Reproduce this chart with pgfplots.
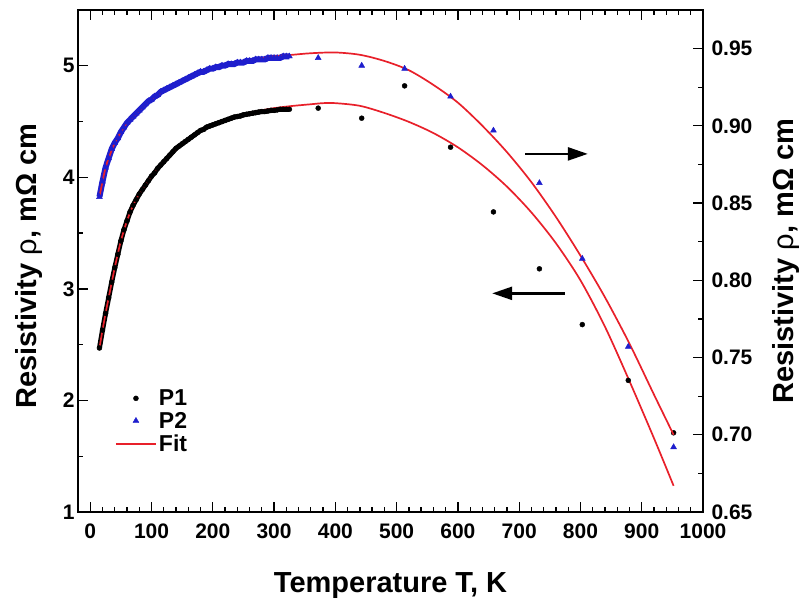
\documentclass[border=0pt]{standalone}
\usepackage{fontspec}
\setmainfont{Liberation Sans}
\usepackage{pgfplots}
\pgfplotsset{compat=1.18}
\usepackage{pgfplotstable}
\usetikzlibrary{arrows.meta}
\definecolor{fitred}{RGB}{232,32,42}
\definecolor{ptblue}{RGB}{30,30,205}

\pgfplotsset{
 markleg/.style={legend image code/.code={\draw[##1, mark repeat=2, mark phase=2] plot coordinates {(0pt,0pt) (20pt,0pt) (40pt,0pt)};}},
 lineleg/.style={legend image code/.code={\draw[fitred, line width=2pt] (0pt,0pt) -- (40pt,0pt);}},
}

\pgfplotstableread{
T v
15 2.47
20 2.63
25 2.78
30 2.92
35 3.06
40 3.19
45 3.31
50 3.43
55 3.53
60 3.61
65 3.69
70 3.75
75 3.80
80 3.85
85 3.89
90 3.93
95 3.97
100 4.01
105 4.04
110 4.08
115 4.11
120 4.14
125 4.17
130 4.20
135 4.23
140 4.26
145 4.28
150 4.30
155 4.32
160 4.34
165 4.36
170 4.38
175 4.40
180 4.42
185 4.43
190 4.45
195 4.46
200 4.47
205 4.48
210 4.49
215 4.50
220 4.51
225 4.52
230 4.53
235 4.54
240 4.545
245 4.55
250 4.56
255 4.565
260 4.57
265 4.575
270 4.58
275 4.585
280 4.59
285 4.59
290 4.595
295 4.60
300 4.60
305 4.605
310 4.61
315 4.61
320 4.61
325 4.61
372 4.62
443 4.53
513 4.82
588 4.27
658 3.69
733 3.18
803 2.68
878 2.18
952 1.71
}\pone

\pgfplotstableread{
T v
15 0.854
20 0.864
25 0.873
30 0.879
35 0.885
40 0.889
45 0.892
50 0.896
55 0.899
60 0.902
65 0.904
70 0.906
75 0.908
80 0.910
85 0.912
90 0.914
95 0.916
100 0.917
105 0.919
110 0.920
115 0.922
120 0.923
125 0.924
130 0.925
135 0.926
140 0.927
145 0.928
150 0.929
155 0.930
160 0.931
165 0.932
170 0.933
175 0.934
180 0.935
185 0.935
190 0.936
195 0.937
200 0.937
205 0.938
210 0.938
215 0.939
220 0.939
225 0.940
230 0.940
235 0.940
240 0.941
245 0.941
250 0.941
255 0.942
260 0.942
265 0.942
270 0.943
275 0.943
280 0.943
285 0.943
290 0.944
295 0.944
300 0.944
305 0.944
310 0.944
315 0.945
320 0.945
325 0.945
372 0.944
443 0.939
513 0.937
588 0.919
658 0.897
733 0.863
803 0.814
878 0.757
952 0.692
}\ptwo

\pgfplotstableread{
T v
15 2.47
20 2.63
25 2.78
30 2.92
40 3.19
50 3.43
60 3.61
70 3.75
80 3.85
95 3.97
110 4.08
125 4.17
150 4.30
180 4.42
210 4.49
240 4.55
270 4.59
300 4.62
330 4.64
360 4.655
380 4.665
400 4.665
440 4.641
480 4.577
520 4.497
560 4.397
600 4.269
640 4.109
680 3.917
720 3.685
760 3.409
800 3.077
840 2.661
880 2.173
920 1.661
952 1.235
}\fitone

\pgfplotstableread{
T v
15 0.854
20 0.864
25 0.873
30 0.879
40 0.889
50 0.896
60 0.902
70 0.906
80 0.910
95 0.916
110 0.920
125 0.924
150 0.929
180 0.935
210 0.938
240 0.941
270 0.943
300 0.945
330 0.946
360 0.947
400 0.9475
440 0.946
480 0.942
520 0.936
560 0.9265
600 0.915
640 0.900
680 0.883
720 0.8635
760 0.841
800 0.816
840 0.789
880 0.759
920 0.726
952 0.700
}\fittwo

\begin{document}
\begin{tikzpicture}
\pgfplotsset{
 common/.style={
  scale only axis, width=625pt, height=502pt,
  xmin=-20, xmax=1000,
  tick align=inside,
  major tick length=10pt, minor tick length=5pt,
  every tick/.style={black, line width=1.3pt},
  axis line style={line width=1.8pt},
  tick label style={font=\fontsize{21}{21}\selectfont\bfseries},
  /pgf/number format/assume math mode=true,
  /pgf/number format/1000 sep={},
  label style={font=\fontsize{29}{29}\selectfont\bfseries},
 }
}
\begin{axis}[common, name=main,
 ymin=1, ymax=5.5, ytick={1,2,3,4,5}, minor ytick={1.5,2.5,3.5,4.5},
 ytick pos=left,
 xtick={0,100,200,300,400,500,600,700,800,900,1000}, minor x tick num=4, xtick pos=both,
 xticklabel style={yshift=-8pt},
 xlabel={Temperature T, K},
 ylabel={Resistivity {\mdseries ρ}, mΩ cm},
 xlabel style={at={(axis description cs:0.5,-0.147)}, anchor=center},
 ylabel style={at={(axis description cs:-0.078,0.49)}, anchor=center},
 legend style={at={(axis description cs:0.054,0.252)}, anchor=north west,
   draw=none, fill=none, font=\fontsize{23}{23}\selectfont\bfseries, row sep=1pt},
 legend cell align=left,
]
\addplot[black, line width=5pt, no marks, restrict x to domain=0:330, forget plot]
  table[x=T,y=v]{\pone};
\addplot[only marks, mark=*, mark size=2.5pt, black, markleg]
  table[x=T,y=v]{\pone};
\addlegendentry{P1}
\addlegendimage{only marks, mark=triangle*, mark size=3.4pt, ptblue, markleg}
\addlegendentry{P2}
\addplot[fitred, line width=1.7pt, smooth, no marks, lineleg]
  table[x=T,y=v]{\fitone};
\addlegendentry{Fit}
\draw[line width=2.5pt, -{Triangle[length=20pt,width=13pt]}] (axis cs:710,4.21) -- (axis cs:812,4.21);
\draw[line width=2.5pt, {Triangle[length=20pt,width=13pt]}-] (axis cs:656,2.96) -- (axis cs:775,2.96);
\end{axis}
\begin{axis}[common,
 axis y line*=right, axis x line=none,
 ymin=0.65, ymax=0.975,
 ytick={0.65,0.7,0.75,0.8,0.85,0.9,0.95},
 minor ytick={0.675,0.725,0.775,0.825,0.875,0.925},
 yticklabel style={/pgf/number format/.cd, fixed, fixed zerofill, precision=2, /tikz/.cd, xshift=5pt},
 ylabel={Resistivity {\mdseries ρ}, mΩ cm},
 ylabel style={at={(axis description cs:1.133,0.5)}, anchor=center},
]
\addplot[ptblue, line width=6pt, no marks, restrict x to domain=0:330] table[x=T,y=v]{\ptwo};
\addplot[only marks, mark=triangle*, mark size=3.4pt, ptblue] table[x=T,y=v]{\ptwo};
\addplot[fitred, line width=1.7pt, smooth, no marks] table[x=T,y=v]{\fittwo};
\end{axis}
\pgfresetboundingbox
\path ([xshift=-78pt,yshift=10pt]main.north west) rectangle ([xshift=103pt,yshift=-93pt]main.south east);
\end{tikzpicture}
\end{document}
